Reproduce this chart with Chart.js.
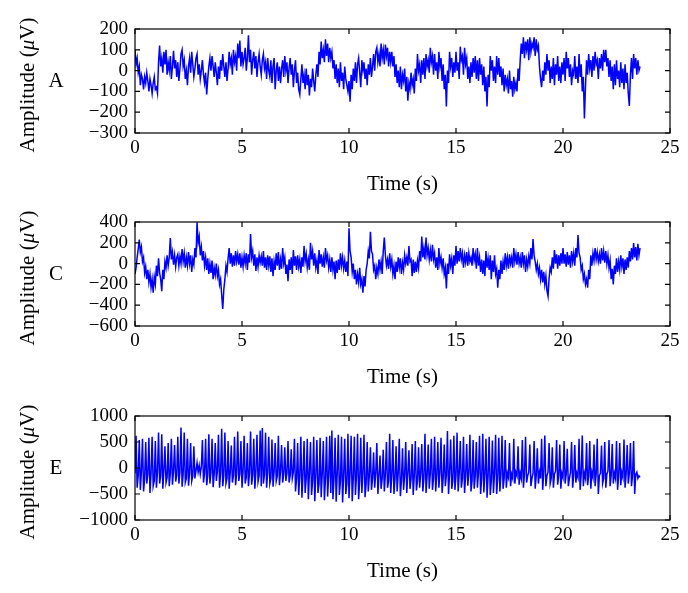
<!DOCTYPE html>
<html><head><meta charset="utf-8">
<script src="https://cdn.jsdelivr.net/npm/chart.js@4.4.0/dist/chart.umd.min.js"></script>
<style>
html,body{margin:0;padding:0;background:#fff;}
#wrap{position:relative;width:688px;height:593px;overflow:hidden;background:#fff;}
.p{position:absolute;left:0;width:688px;height:200px;}
</style></head><body>
<div id="wrap">
<div class="p" style="top:0px"><canvas id="cA" width="688" height="200"></canvas></div>
<div class="p" style="top:193px"><canvas id="cC" width="688" height="200"></canvas></div>
<div class="p" style="top:387px"><canvas id="cE" width="688" height="200"></canvas></div>
</div>
<script>
// ---- data (amplitudes in µV) ----
const PANEL_LABELS = ["A", "C", "E"];
const X_TICKS = [0, 5, 10, 15, 20, 25];
const Y_TICKS_A = [-300, -200, -100, 0, 100, 200];
const Y_TICKS_C = [-600, -400, -200, 0, 200, 400];
const Y_TICKS_E = [-1000, -500, 0, 500, 1000];
const STEP_A = 0.05;   // seconds between listed samples
const STEP_C = 0.05;
const STEP_E = 0.05;

const SIGNAL_A = [
 100, 30, 60, -10, 20, -70, -20, -40, -90, -30, -60, -10, -50, -100, -40, -70, -110, -60, -30, -90,
 -80, -110, 40, 120, 20, 60, -10, 90, 30, 100, -20, 40, 0, 70, -40, 20, 95, 10, 50, -30,
 40, -50, 10, 80, 100, 20, 50, -40, 0, -70, 20, 60, -10, 90, 30, -30, 10, 60, 80, -20,
 30, -40, 0, 50, -20, -60, -10, -115, -40, 20, 60, 0, 70, 20, -30, 40, -10, -70, 20, -40,
 50, 0, 80, 20, -30, 40, -50, 10, 90, 30, 60, -20, 100, 40, 70, 0, 130, 60, 145, 20,
 90, 30, 60, 110, 0, 60, 170, 40, 100, -20, 50, 90, 10, 70, -30, 40, 80, 20, -20, 50,
 80, 10, 40, -40, 60, 0, -30, 50, -60, 20, 60, -90, 0, 40, -50, 20, -60, 10, 50, -30,
 70, 0, 40, -60, 10, 60, -20, 30, -80, 0, 50, -60, -10, -90, -115, -40, 30, -60, -20, -90,
 10, -70, -20, -120, -40, -80, 10, -50, -100, -20, 30, -30, 90, 30, 140, 60, 100, 40, 150, 70,
 130, 40, 110, 60, 90, 10, 50, -40, 30, -60, 10, -80, 40, -50, -10, -90, 20, -40, -70, -100,
 -50, -150, -20, -90, 10, -50, 40, -60, 30, 60, -10, -80, 50, 0, 40, -40, 10, -70, 30, -20,
 60, -30, 20, 80, 0, 90, 110, 40, 80, 20, 130, 60, 100, 30, 125, 70, 110, 20, 90, 40,
 90, 20, 70, -30, 30, -60, 0, -80, 20, -90, -20, -50, 10, -100, -30, -145, -60, -90, -10, -70,
 -40, -110, 10, -50, 80, 0, 30, -60, 50, -20, 60, -40, 80, 20, 50, -10, 110, 40, 70, -20,
 80, 0, 40, -40, 90, 20, 60, -50, 30, -90, -20, -173, 0, -60, 90, 20, 60, -30, 40, -10,
 90, 0, 40, -40, 115, 50, 70, -20, 110, 30, 60, -40, 20, -60, 40, -30, 60, -10, 70, -40,
 50, -50, 60, -20, 30, -70, 20, -100, -30, -173, -20, -80, 70, 0, 50, -50, 20, -60, 70, -20,
 60, -30, 20, -70, 10, -100, -20, -70, -40, -110, 0, -90, -50, -125, -30, -90, -60, -100, 10, -50,
 50, 130, 80, 160, 60, 140, 100, 150, 50, 160, 90, 130, 110, 160, 70, 150, 100, 120, 20, -40,
 -80, 0, -50, 40, -20, 80, 0, 50, -60, 20, -40, 60, -70, 30, -20, 70, -50, 20, -60, 40,
 -20, 60, -50, 90, 10, 60, -30, 30, -70, 0, -20, 70, -40, 20, -60, 80, -30, 30, -100, -30,
 -230, -80, 50, -20, 80, 10, 50, -30, 70, 0, 90, 30, 50, -40, 60, 10, 80, 0, 100, 40,
 100, 20, 60, -30, 50, -50, 20, -90, 30, -70, 50, -40, 0, -80, 40, -60, 10, -90, 30, -60,
 -10, -110, -170, -20, 60, -40, 80, 10, 60, -20, 50, 0, 20
];

const SIGNAL_C = [
 -100, -40, 60, 140, 230, 110, 160, 20, 60, -90, -30, -150, -60, -180, -100, -230, -150, -280, -130, -200,
 -20, -120, 50, -90, -150, -265, -60, -150, 20, -40, 80, -20, 60, 245, 40, 110, -10, 80, -30, 60,
 90, -20, 70, 0, 140, 20, 100, -40, 60, -20, 110, 0, 80, -80, 40, -10, 150, 60, 397, 200,
 260, 80, 160, 30, 120, -20, 60, -60, 50, -100, 0, -90, 30, -150, -40, -110, 0, -120, -60, -200,
 -150, -300, -435, -250, -150, -20, -80, 50, 150, 0, 100, -30, 80, -20, 120, 20, 90, -10, 100, -40,
 60, -30, 80, 0, 100, -60, 90, 10, 285, 60, 120, -20, 90, -70, 60, -30, 80, 10, 70, -20,
 120, -40, 60, -60, 80, -20, 70, -80, 50, -120, 20, -60, 100, -20, 110, -60, 40, -50, 150, 0,
 60, -100, -10, -170, 40, -60, 60, -100, 130, -20, 70, -60, 80, -30, 40, -90, 60, -30, 170, 20,
 90, -40, 40, -60, 200, 40, 120, -20, 100, -40, 30, -100, 130, 0, 90, -30, 60, -40, 150, 30,
 80, -40, 40, -80, 60, -60, 20, -150, 30, -90, 40, -60, 100, -20, 60, -50, 30, -80, 20, -120,
 340, 120, 60, -80, 0, -150, -60, -200, -100, -180, -40, -200, -150, -280, -120, -220, -60, 0, 120, 50,
 306, 120, 90, -60, -20, -150, -40, -100, 40, -60, 20, -100, 120, 250, 80, -20, 40, -50, 100, -30,
 40, -100, -20, -150, 20, -80, 60, -40, 50, -100, 10, -60, 80, 0, 60, -20, 170, 20, 40, -120,
 40, -90, 20, -80, 30, -40, 120, 20, 260, 60, 150, 40, 250, 80, 150, 40, 130, 20, 180, 40,
 100, -40, 60, -60, 150, 0, 60, -40, 50, -100, -40, -240, 0, -100, 90, -20, 50, -100, 80, -20,
 170, 0, 120, 20, 150, 40, 100, -40, 80, 10, 110, -20, 100, 20, 60, -20, 150, 30, 90, -50,
 150, -20, 60, -80, 40, -100, 30, -120, 120, -40, 50, -60, 80, -150, 30, -80, 80, -100, -50, -232,
 -60, -150, 30, -100, 20, -60, 100, -20, 60, -50, 90, 0, 60, -40, 150, 20, 90, -10, 110, 0,
 60, -40, 110, 0, 80, -80, 40, -30, 70, 0, 150, 40, 235, 80, 20, -60, 0, -100, -40, -150,
 -60, -180, -80, -200, -120, -260, -313, -140, -40, -80, 60, -50, 130, 0, 90, -50, 80, -20, 100, 0,
 150, 0, 90, -30, 110, -10, 80, -40, 120, 20, 100, -20, 150, 60, 275, 100, 60, -60, -20, -150,
 -100, -200, -150, -232, -60, -150, 80, -20, 100, 30, 150, 40, 110, 20, 90, 0, 150, 30, 120, 10,
 120, 0, 80, -40, 30, -150, -50, -200, -20, -100, 50, -80, 20, -60, 80, -30, 50, -100, 40, -60,
 60, -40, 120, 20, 150, 40, 197, 60, 160, 30, 190, 80, 150
];

const SIGNAL_E = [
 -100, 620, -380, -150, 540, -420, -60, 560, -450, -200, 500, -300, -120, 580, -480, -100, 600, -350, -250, 520,
 -380, -80, 680, -300, -150, 650, -400, -50, 420, -280, -180, 480, -350, -100, 560, -320, -60, 440, -260, -140,
 600, -300, -80, 780, -360, -120, 680, -280, -200, 560, -340, -100, 480, -250, -150, 420, -200, -50, 100, -80,
 50, -120, 30, 540, -280, -100, 560, -330, -150, 650, -300, -80, 560, -370, -120, 480, -250, -60, 640, -380,
 -100, 755, -350, -150, 680, -300, -200, 520, -400, -80, 430, -280, -150, 600, -330, -100, 700, -250, -120, 520,
 -380, -60, 620, -300, -180, 480, -350, -100, 700, -320, -140, 560, -400, -80, 640, -260, -150, 720, -350, 770,
 -300, -120, 680, -380, -100, 600, -300, -200, 550, -360, -80, 480, -250, -150, 620, -330, -60, 440, -280, -120,
 400, -250, -100, 520, -280, -150, 360, -200, -80, 560, -450, -200, 480, -520, -150, 600, -570, -120, 520, -480,
 -200, 560, -600, -100, 500, -520, -250, 600, -640, -150, 540, -480, -300, 580, -560, -100, 520, -620, -200, 600,
 -550, -150, 620, -480, 720, -600, -200, 580, -650, -100, 640, -520, -250, 600, -665, -150, 560, -500, -300, 660,
 -580, -100, 620, -640, -200, 600, -520, -150, 660, -600, -250, 580, -480, -100, 640, -560, -300, 500, -450, -150,
 400, -420, -200, 300, -380, -100, 480, -500, -150, 240, -400, -200, 350, -450, -120, 500, -380, -250, 660, -480,
 -150, 540, -500, -200, 420, -450, -100, 560, -540, -250, 380, -420, -150, 500, -480, -100, 340, -400, -200, 460,
 -520, -150, 520, -430, -250, 400, -380, -100, 460, -450, -200, 660, -480, -150, 450, -400, -100, 560, -420, -200,
 600, -450, -150, 500, -380, -100, 580, -480, -200, 450, -350, -150, 710, -500, -100, 550, -400, -250, 620, -420,
 -150, 680, -450, -100, 520, -380, -200, 600, -480, -150, 460, -340, -100, 640, -450, -250, 540, -400, -150, 500,
 -380, -100, 620, -500, -200, 660, -470, -120, 560, -570, -150, 600, -520, -250, 530, -480, -100, 640, -500, -200,
 580, -450, -120, 620, -400, -200, 540, -380, -100, -180, 480, -350, -120, -200, 560, -300, -80, -150, 420, -320,
 -100, -200, 540, -380, -120, 600, -280, -150, -80, 450, -350, -200, -100, 520, -400, -150, 380, -300, -80, -200,
 560, -420, -100, 625, -350, -150, -80, 480, -300, -200, 400, -380, -120, -60, 540, -320, -150, 450, -400, -100,
 -180, 520, -300, -120, 370, -350, -200, -80, 500, -380, -150, 440, -280, -100, -180, 560, -420, -120, 625, -350,
 -100, -200, 480, -330, -150, 520, -400, -80, -180, 450, -350, -120, 560, -500, -150, -100, 430, -300, -200, 500,
 -380, -120, -60, 540, -350, -150, 460, -300, -100, -200, 520, -420, -150, 480, -330, -80, -180, 550, -380, -120,
 440, -300, -100, 480, -350, -150, 520, -500, -120, -80, -200, -150, -180
];

// ---- drawing ----
const SERIF = "'Liberation Serif', 'DejaVu Serif', serif";
const TICK_FONT = {family: SERIF, size: 19};
const TITLE_SIZE = 21;

function fmt(v) { return v < 0 ? "\u2212" + Math.abs(v) : String(v); }

const framePlugin = {
  id: 'frame',
  afterDraw(chart, args, opts) {
    const {ctx, chartArea: a, scales} = chart;
    ctx.save();
    ctx.strokeStyle = '#000';
    ctx.lineWidth = 1.2;
    ctx.strokeRect(a.left, a.top, a.right - a.left, a.bottom - a.top);
    const L = 5;
    ctx.beginPath();
    scales.x.ticks.forEach(t => {
      const px = scales.x.getPixelForValue(t.value);
      ctx.moveTo(px, a.bottom); ctx.lineTo(px, a.bottom - L);
      ctx.moveTo(px, a.top); ctx.lineTo(px, a.top + L);
    });
    scales.y.ticks.forEach(t => {
      const py = scales.y.getPixelForValue(t.value);
      ctx.moveTo(a.left, py); ctx.lineTo(a.left + L, py);
      ctx.moveTo(a.right, py); ctx.lineTo(a.right - L, py);
    });
    ctx.stroke();
    // panel letter
    const cy = (a.top + a.bottom) / 2;
    ctx.fillStyle = '#000';
    ctx.textBaseline = 'middle';
    ctx.textAlign = 'center';
    ctx.font = TITLE_SIZE + 'px ' + SERIF;
    ctx.fillText(opts.letter, 56, cy);
    // y title with italic mu
    const parts = [["Amplitude (", ""], ["\u03bc", "italic "], ["V)", ""]];
    let total = 0;
    const widths = parts.map(p => { ctx.font = p[1] + TITLE_SIZE + 'px ' + SERIF; const w = ctx.measureText(p[0]).width; total += w; return w; });
    ctx.translate(28, cy + 4);
    ctx.rotate(-Math.PI / 2);
    ctx.textAlign = 'left';
    let x = -total / 2;
    parts.forEach((p, i) => { ctx.font = p[1] + TITLE_SIZE + 'px ' + SERIF; ctx.fillText(p[0], x, 0); x += widths[i]; });
    ctx.restore();
  }
};

function makeChart(id, letter, values, step, yTicks) {
  const pts = values.map((v, i) => ({x: i * step, y: v}));
  return new Chart(document.getElementById(id), {
    type: 'line',
    data: {datasets: [{data: pts, borderColor: '#0000ff', borderWidth: 1.5, pointRadius: 0, tension: 0, fill: false}]},
    options: {
      responsive: false, animation: false, parsing: false,
      layout: {padding: {top: 29, right: 18, left: 0, bottom: 0}},
      plugins: {legend: {display: false}, tooltip: {enabled: false}, frame: {letter: letter}},
      scales: {
        x: {
          type: 'linear', min: X_TICKS[0], max: X_TICKS[X_TICKS.length - 1],
          afterBuildTicks: s => { s.ticks = X_TICKS.map(v => ({value: v})); },
          ticks: {font: TICK_FONT, color: '#000', padding: 4, maxRotation: 0, autoSkip: false, callback: v => fmt(v)},
          grid: {display: false, drawTicks: false}, border: {display: false},
          title: {display: true, text: 'Time (s)', color: '#000', font: {family: SERIF, size: TITLE_SIZE}, padding: {top: 0, bottom: 3}},
          afterFit: s => { s.height = 67; }
        },
        y: {
          type: 'linear', min: yTicks[0], max: yTicks[yTicks.length - 1],
          afterBuildTicks: s => { s.ticks = yTicks.map(v => ({value: v})); },
          ticks: {font: TICK_FONT, color: '#000', padding: 7, autoSkip: false, callback: v => fmt(v)},
          grid: {display: false, drawTicks: false}, border: {display: false},
          afterFit: s => { s.width = 135; }
        }
      }
    },
    plugins: [framePlugin]
  });
}

makeChart('cA', PANEL_LABELS[0], SIGNAL_A, STEP_A, Y_TICKS_A);
makeChart('cC', PANEL_LABELS[1], SIGNAL_C, STEP_C, Y_TICKS_C);
makeChart('cE', PANEL_LABELS[2], SIGNAL_E, STEP_E, Y_TICKS_E);
</script>
</body></html>
